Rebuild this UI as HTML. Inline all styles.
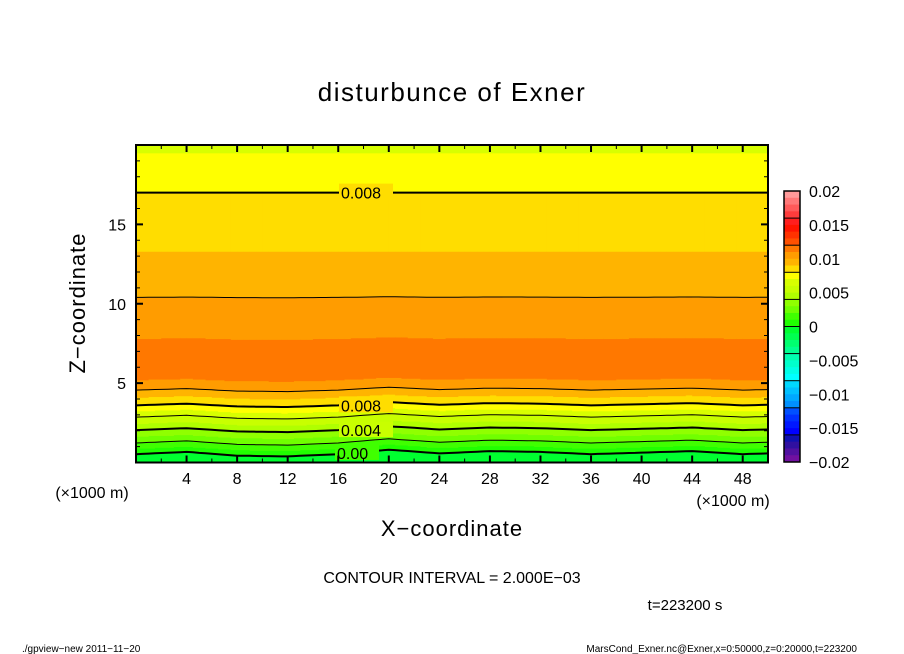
<!DOCTYPE html>
<html><head><meta charset="utf-8"><style>
html,body{margin:0;padding:0;background:#fff;}
svg{display:block;font-family:"Liberation Sans","DejaVu Sans",sans-serif;}
</style></head><body>
<svg id="chart" width="904" height="654" viewBox="0 0 904 654">
<text x="452" y="101" font-size="26" text-anchor="middle" letter-spacing="1.5">disturbunce of Exner</text>
<g id="field"></g>
<g id="lines"></g>
<g id="labels"></g>
<g id="axes"></g>
<g id="cbar"></g>
<text x="85" y="303" font-size="22" text-anchor="middle" letter-spacing="1" transform="rotate(-90 85 303)">Z−coordinate</text>
<text x="452" y="536" font-size="22" text-anchor="middle" letter-spacing="1">X−coordinate</text>
<text x="92" y="498" font-size="16" text-anchor="middle">(×1000 m)</text>
<text x="733" y="506" font-size="16" text-anchor="middle">(×1000 m)</text>
<text x="452" y="583" font-size="16" text-anchor="middle">CONTOUR INTERVAL = 2.000E−03</text>
<text x="685" y="610" font-size="15" text-anchor="middle">t=223200 s</text>
<text x="22" y="652" font-size="10">./gpview−new   2011−11−20</text>
<text x="857" y="652" font-size="10" text-anchor="end">MarsCond_Exner.nc@Exner,x=0:50000,z=0:20000,t=223200</text>
</svg>
<script>
// ---- data ----
const profileZ = [0, 0.53, 1.23, 2.04, 2.86, 3.6, 4.1, 4.56, 5.2, 6.5, 7.8, 10.4, 13.3, 17, 19.5, 20];
const profileV = [-0.0005, 0, 0.002, 0.004, 0.006, 0.008, 0.009, 0.010, 0.011, 0.0113, 0.011, 0.010, 0.009, 0.008, 0.007, 0.0068];
const waveX = [0, 4, 8, 12, 16, 20, 24, 28, 32, 36, 40, 44, 48, 50];
const waveDisp = [0, 0.15, -0.1, -0.15, 0, 0.3, 0.05, 0.2, 0.15, 0.0, 0.1, 0.2, 0.0, 0.05];
const xTicks = [4, 8, 12, 16, 20, 24, 28, 32, 36, 40, 44, 48];
const zTicks = [5, 10, 15];
const levels = [0, 0.002, 0.004, 0.006, 0.008, 0.010];
const cbTicks = [0.02, 0.015, 0.01, 0.005, 0, -0.005, -0.01, -0.015, -0.02];
const cbLabels = ["0.02", "0.015", "0.01", "0.005", "0", "−0.005", "−0.01", "−0.015", "−0.02"];
const bandColors = [ // from 0.02 down to -0.02, step 0.001
"#ff9a9a","#ff7878","#ff5a5a","#ff3c3c",
"#ff1e1e","#ff1400","#ff3200","#ff5000",
"#ff7800","#ff9c00","#ffb400","#ffdd00",
"#ffff00","#d8ff00","#c8ff00","#b0ff00",
"#90ff00","#70ff00","#40ff00","#20ff00",
"#00ff30","#00ff50","#00ff70","#00ff90",
"#00ffb0","#00ffcc","#00ffe6","#00ffff",
"#00d8ff","#00c0ff","#00a8ff","#0090ff",
"#0050ff","#0030ff","#0018ff","#0000ff",
"#1010b0","#3010a0","#5010a0","#7010a0"];
// ---- scales ----
const X0=136, X1=768, Y0=462.5, Y1=145;
const sx = x => X0 + x/50*(X1-X0);
const sz = z => Y0 - z/20*(Y0-Y1);
const NS="http://www.w3.org/2000/svg";
function mk(tag, attrs, parent){const e=document.createElementNS(NS,tag);for(const k in attrs)e.setAttribute(k,attrs[k]);parent.appendChild(e);return e;}
function interp(xa, ya, x){ if(x<=xa[0])return ya[0]; for(let i=1;i<xa.length;i++){ if(x<=xa[i]){const t=(x-xa[i-1])/(xa[i]-xa[i-1]);return ya[i-1]+t*(ya[i]-ya[i-1]);} } return ya[ya.length-1]; }
function val(x,z){ const d=interp(waveX,waveDisp,x); const w=Math.max(0,1-z/12); return interp(profileZ,profileV,Math.max(0,z-d*w)); }
function band(v){ let i=Math.floor((0.02-v)/0.001); return Math.min(39,Math.max(0,i)); }
// ---- fill ----
const field=document.getElementById('field');
const dx=0.5, dz=0.05, NX=100, NZ=400;
for(let ix=0; ix<NX; ix++){
  const x=ix*dx;
  let start=0, cur=band(val(x+dx/2,dz/2));
  for(let iz=1; iz<=NZ; iz++){
    const z=iz*dz;
    const b = iz<NZ ? band(val(x+dx/2,z+dz/2)) : -1;
    if(b!==cur){
      const r=mk('rect',{x:sx(x),y:sz(z),width:sx(x+dx)-sx(x)+0.6,height:sz(start)-sz(z)+0.4,fill:bandColors[cur]},field);
      
      
      start=z; cur=b;
    }
  }
}
// ---- contour lines ----
const lines=document.getElementById('lines');
levels.forEach(lv=>{
  const polys=[];
  for(let ix=0; ix<=100; ix++){
    const x=ix*0.5;
    let k=0, prev=val(x,0);
    for(let iz=1; iz<=1000; iz++){
      const z=iz*0.02;
      const v=val(x,z);
      if((prev<lv && v>=lv) || (prev>=lv && v<lv)){
        const zc=z-0.02+0.02*(lv-prev)/((v-prev)||1e-9);
        (polys[k]=polys[k]||[]).push(sx(x).toFixed(1)+','+sz(zc).toFixed(1)); k++;
      }
      prev=v;
    }
  }
  const thick = Math.abs(Math.round(lv*1000)%4)===0;
  polys.forEach(p=>{
    const pl=mk('polyline',{points:p.join(' '),fill:'none',stroke:'#000','stroke-width':thick?2:1},lines);
    
    
  });
});
// ---- contour labels ----
const labs=document.getElementById('labels');
[[366,17,"0.008","#ffdd00"],[366,3.6,"0.008","#ffdd00"],[366,2.04,"0.004","#c8ff00"],[362,0.6,"0.00","#40ff00"]].forEach(l=>{
  const y=sz(l[1]);
  const r=mk('rect',{x:l[0]-27,y:y-9,width:l[2].length*10+4,height:16,fill:l[3]},labs);
  
  
  const t=mk('text',{x:l[0]-25,y:y+6,'font-size':16},labs);
  t.textContent=l[2];
  
  
});
// ---- axes ----
const ax=document.getElementById('axes');
const fr=mk('rect',{x:X0,y:Y1,width:X1-X0,height:Y0-Y1,fill:'none',stroke:'#000','stroke-width':2},ax);


for(let x=2;x<50;x+=2){
  const maj=xTicks.includes(x), L=maj?7:4;
  mk('line',{x1:sx(x),x2:sx(x),y1:Y0,y2:Y0-L,stroke:'#000','stroke-width':maj?2:1},ax);
  mk('line',{x1:sx(x),x2:sx(x),y1:Y1,y2:Y1+L,stroke:'#000','stroke-width':maj?2:1},ax);
}
xTicks.forEach(x=>{const t=mk('text',{x:sx(x),y:484,'font-size':16,'text-anchor':'middle'},ax);t.textContent=x;});
for(let z=1;z<20;z++){
  const maj=zTicks.includes(z), L=maj?7:4;
  mk('line',{x1:X0,x2:X0+L,y1:sz(z),y2:sz(z),stroke:'#000','stroke-width':maj?2:1},ax);
  mk('line',{x1:X1,x2:X1-L,y1:sz(z),y2:sz(z),stroke:'#000','stroke-width':maj?2:1},ax);
}
zTicks.forEach(z=>{const t=mk('text',{x:126,y:sz(z)+6,'font-size':16,'text-anchor':'end'},ax);t.textContent=z;});
// ---- colorbar ----
const cb=document.getElementById('cbar');
const CT=191, CB=462, CX=784, CW=16;
const cy=v=>CT+(0.02-v)/0.04*(CB-CT);
bandColors.forEach((c,i)=>{
  const v=0.02-i*0.001;
  const r=mk('rect',{x:CX,y:cy(v),width:CW,height:cy(v-0.001)-cy(v)+0.4,fill:c},cb);
  
  
});
for(let i=1;i<10;i++){ mk('line',{x1:CX,x2:CX+CW,y1:cy(0.02-i*0.004),y2:cy(0.02-i*0.004),stroke:'#000','stroke-width':1},cb); }
mk('rect',{x:CX,y:CT,width:CW,height:CB-CT,fill:'none',stroke:'#000','stroke-width':1.5},cb);
cbTicks.forEach((v,i)=>{const t=mk('text',{x:809,y:cy(v)+6,'font-size':16},cb);t.textContent=cbLabels[i];});
</script>
</body></html>
